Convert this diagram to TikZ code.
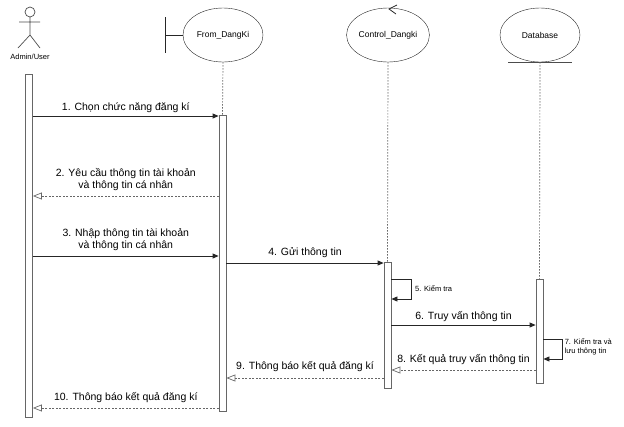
\documentclass[tikz,border=0pt]{standalone}
\usepackage{fontspec}
\setmainfont{Liberation Sans}
\usepackage{tikz}
\usetikzlibrary{positioning, shapes.geometric, arrows.meta}

\begin{document}
\begin{tikzpicture}[
                    x=1pt, y=-1pt,
                    every node/.style={align=center, font=\fontsize{10.5}{12}\selectfont},
                    obj/.style={draw=black!85, ellipse, minimum width=80pt, minimum height=54pt, inner sep=0pt, font=\fontsize{8.5}{10}\selectfont},
                    bar/.style={draw=black!60, fill=white, minimum width=7pt, inner sep=0pt, line width=0.8pt},
                    life/.style={draw=black!60, dash pattern=on 1.5pt off 1.5pt, line width=0.7pt},
                    msg/.style={draw=black!85, line width=0.8pt, -{Triangle[length=6pt, width=5pt]}},
                    ret/.style={draw=black!60, line width=0.7pt, dash pattern=on 2pt off 1.5pt, -{Triangle[open, length=9pt, width=7pt]}},
                    note/.style={font=\fontsize{7.5}{9}\selectfont, align=left}
                ]
                    \useasboundingbox (0,0) rectangle (624,426);

                    % Actor
                    \draw[black!70, line width=0.7pt] (30,12) circle (5);
                    \draw[black!70, line width=0.7pt] (30,17) -- (30,35) (19,22) -- (40,22)
                        (18,48) -- (30,35) -- (40,48);
                    \node (actor) at (30,57) [font=\fontsize{7.5}{9}\selectfont] {Admin/User};

                    % Objects
                    \node (form) [obj] at (223,35) {From\_DangKi};
                    \node (ctrl) [obj] at (388,35) {Control\_Dangki};
                    \node (db) [obj] at (540,35) {Database};
                    \draw[black!85, line width=0.8pt] (165,17) -- (165,53) (165,35) -- (form.west);
                    \draw[black!85, line width=0.8pt] (397,5) -- (389,9) -- (396,14);
                    \draw[black!70, line width=1pt] (508,62) -- (572,62);

                    % Activation bars
                    \node (abar) [bar, minimum height=343pt] at (29,245.5) {};
                    \node (fbar) [bar, minimum height=296pt] at (222.5,263) {};
                    \node (cbar) [bar, minimum height=126pt] at (387.5,325) {};
                    \node (dbar) [bar, minimum height=104pt] at (539.5,331) {};

                    % Lifelines
                    \draw[life] (form.south) -- (fbar.north);
                    \draw[life] (ctrl.south) -- (cbar.north);
                    \draw[life] (db.south) -- (dbar.north);

                    % Messages
                    \draw[msg] (abar.east |- 0,116) -- node[above, inner sep=3pt] {1. Chọn chức năng đăng kí} (fbar.west |- 0,116);
                    \draw[ret] (fbar.west |- 0,196) -- node[above, inner sep=5pt] {2. Yêu cầu thông tin tài khoản\\và thông tin cá nhân} (abar.east |- 0,196);
                    \draw[msg] (abar.east |- 0,256) -- node[above, inner sep=5pt] {3. Nhập thông tin tài khoản\\và thông tin cá nhân} (fbar.west |- 0,256);
                    \draw[msg] (fbar.east |- 0,263) -- node[above, inner sep=5pt] {4. Gửi thông tin} (cbar.west |- 0,263);
                    \draw[msg] (cbar.east |- 0,279) -- ++(20,0) |- node[pos=0.25, right, note] {5. Kiểm tra} (cbar.east |- 0,299);
                    \draw[msg] (cbar.east |- 0,325) -- node[above, inner sep=3pt] {6. Truy vấn thông tin} (dbar.west |- 0,325);
                    \draw[msg] (dbar.east |- 0,339) -- ++(19,0) |- node[pos=0.2, right, note, inner sep=2pt] {7. Kiểm tra và\\lưu thông tin} (dbar.east |- 0,359);
                    \draw[ret] (dbar.west |- 0,370) -- node[above, inner sep=5pt] {8. Kết quả truy vấn thông tin} (cbar.east |- 0,370);
                    \draw[ret] (cbar.west |- 0,378) -- node[above, inner sep=6pt] {9. Thông báo kết quả đăng kí} (fbar.east |- 0,378);
                    \draw[ret] (fbar.west |- 0,408) -- node[above, inner sep=5pt] {10. Thông báo kết quả đăng kí} (abar.east |- 0,408);

\end{tikzpicture}
\end{document}
